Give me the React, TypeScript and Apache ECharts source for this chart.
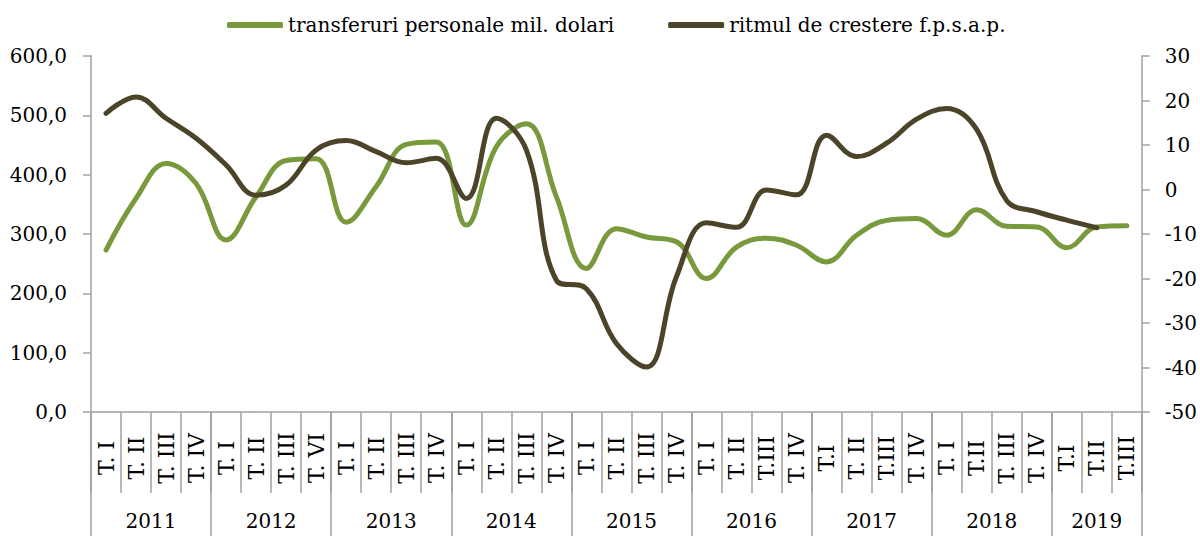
import React, { useEffect, useRef } from 'react';
import * as echarts from 'echarts';

const quarterLabels = [
  'T. I', 'T. II', 'T. III', 'T. IV',
  'T. I', 'T. II', 'T. III', 'T. VI',
  'T. I', 'T. II', 'T. III', 'T. IV',
  'T. I', 'T. II', 'T. III', 'T. IV',
  'T. I', 'T. II', 'T. III', 'T. IV',
  'T. I', 'T. II', 'T.III', 'T. IV',
  'T.I', 'T. II', 'T.III', 'T. IV',
  'T. I', 'T.II', 'T. III', 'T. IV',
  'T.I', 'T.II', 'T.III',
];

const years = ['2011', '2012', '2013', '2014', '2015', '2016', '2017', '2018', '2019'];
const quartersPerYear = [4, 4, 4, 4, 4, 4, 4, 4, 3];

const transferuri = [
  273, 360, 419, 385,
  290, 363, 424, 427,
  320, 380, 451, 455,
  315, 447, 486, 363,
  242, 309, 295, 287,
  225, 278, 293, 281,
  253, 298, 323, 326,
  298, 341, 313, 312,
  277, 312, 314,
];

const ritmul = [
  17.1, 20.8, 16.0, 11.5,
  5.5, -1.3, 1.0, 8.9,
  11.0, 8.5, 6.0, 7.0,
  -2.0, 16.0, 8.9, -20.4,
  -22.3, -34.6, -39.9, -19.6,
  -7.5, -8.5, -0.1, -1.2,
  12.2, 7.4, 10.4, 15.8,
  18.2, 13.5, -2.5, -5.0,
  -6.9, -8.6, null,
];

const seriesNames = ['transferuri personale mil. dolari', 'ritmul de crestere f.p.s.a.p.'];
const GREEN = '#789a3d';
const DARK = '#4b4429';
const GRID_COLOR = '#a0a0a0';
const FONT = 'DejaVu Serif';

export default function App() {
  const ref = useRef<HTMLDivElement>(null);
  useEffect(() => {
    document.body.style.margin = '0';
    const chart = echarts.init(ref.current!, null, { renderer: 'svg' });
    const bounds: number[] = [0];
    quartersPerYear.forEach((q) => bounds.push(bounds[bounds.length - 1] + q));
    const centers = years.map((_, i) => (bounds[i] + bounds[i + 1]) / 2);
    const total = bounds[bounds.length - 1];
    const yearStarts = new Set(bounds.slice(0, -1));
    const axisLineStyle = { color: GRID_COLOR, width: 1.5 };

    chart.setOption({
      animation: false,
      textStyle: { fontFamily: FONT },
      legend: {
        top: 10,
        left: 222,
        itemWidth: 56,
        itemHeight: 6,
        itemGap: 54,
        icon: 'roundRect',
        textStyle: { fontSize: 20, color: '#000', fontFamily: FONT },
        data: seriesNames,
      },
      grid: { left: 91, right: 58, top: 56, bottom: 124 },
      xAxis: [
        {
          type: 'category',
          data: quarterLabels,
          boundaryGap: true,
          position: 'bottom',
          axisLine: { onZero: false, lineStyle: axisLineStyle },
          axisTick: { show: true, interval: 0, length: 81, lineStyle: axisLineStyle },
          axisLabel: {
            interval: 0,
            rotate: 90,
            align: 'center',
            verticalAlign: 'middle',
            margin: 46,
            fontSize: 22,
            color: '#000',
            fontFamily: FONT,
          },
        },
        {
          type: 'category',
          data: quarterLabels,
          boundaryGap: true,
          position: 'bottom',
          offset: 0,
          axisLine: { show: false, onZero: false },
          splitLine: { show: false },
          axisLabel: { show: false },
          axisTick: {
            show: true,
            inside: false,
            interval: (index: number) => yearStarts.has(index),
            length: 124,
            lineStyle: axisLineStyle,
          },
        },
        {
          type: 'value',
          min: 0,
          max: total,
          position: 'bottom',
          offset: 0,
          axisLine: { show: false, onZero: false },
          splitLine: { show: false },
          axisTick: { show: false },
          axisLabel: {
            customValues: centers,
            formatter: (v: number) => {
              let best = 0;
              centers.forEach((c, i) => {
                if (Math.abs(c - v) < Math.abs(centers[best] - v)) best = i;
              });
              return years[best];
            },
            margin: 99,
            fontSize: 20,
            color: '#000',
            fontFamily: FONT,
          },
        },
      ],
      yAxis: [
        {
          type: 'value',
          min: 0,
          max: 600,
          interval: 100,
          position: 'left',
          axisLine: { show: true, onZero: false, lineStyle: axisLineStyle },
          axisTick: { show: true, length: 8, lineStyle: axisLineStyle },
          splitLine: { show: false },
          axisLabel: {
            margin: 24,
            fontSize: 20,
            color: '#000',
            fontFamily: FONT,
            formatter: (v: number) => v.toFixed(1).replace('.', ','),
          },
        },
        {
          type: 'value',
          min: -50,
          max: 30,
          interval: 10,
          position: 'right',
          axisLine: { show: true, onZero: false, lineStyle: axisLineStyle },
          axisTick: { show: true, length: 8, lineStyle: axisLineStyle },
          splitLine: { show: false },
          axisLabel: { margin: 23, fontSize: 20, color: '#000', fontFamily: FONT },
        },
      ],
      series: [
        {
          name: seriesNames[0],
          type: 'line',
          xAxisIndex: 0,
          yAxisIndex: 0,
          data: transferuri,
          smooth: 0.4,
          symbol: 'none',
          itemStyle: { color: GREEN },
          lineStyle: { color: GREEN, width: 5, cap: 'round', join: 'round' },
        },
        {
          name: seriesNames[1],
          type: 'line',
          xAxisIndex: 0,
          yAxisIndex: 1,
          data: ritmul,
          smooth: 0.4,
          symbol: 'none',
          itemStyle: { color: DARK },
          lineStyle: { color: DARK, width: 5, cap: 'round', join: 'round' },
        },
      ],
    });
    return () => chart.dispose();
  }, []);
  return <div ref={ref} style={{ width: 1200, height: 536 }} />;
}
